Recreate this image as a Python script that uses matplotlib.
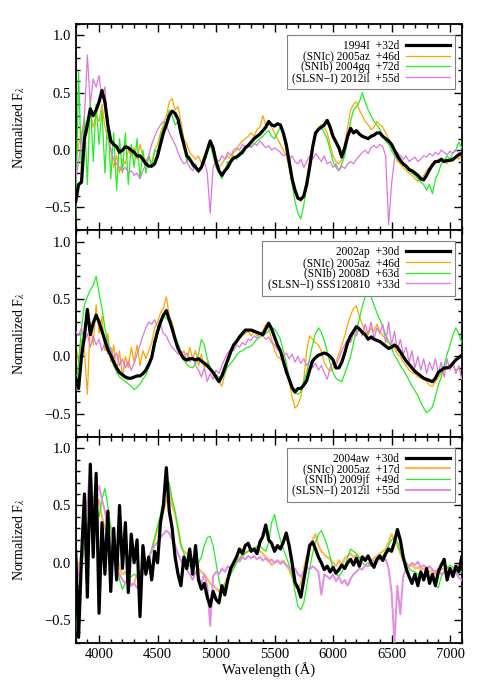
import numpy as np
import matplotlib
matplotlib.use("Agg")
import matplotlib.pyplot as plt
from matplotlib.ticker import MultipleLocator

plt.rcParams["font.family"] = ["Liberation Serif", "DejaVu Serif"]
plt.rcParams["mathtext.fontset"] = "stix"

# all spectra sampled every 25 A between 3800 and 7100 A
WAVE_MIN, WAVE_MAX = 3800, 7100

# ---- panel 1: SN 1994I ----
p1_labels = ["1994I  +32d", "(SNIc) 2005az  +46d", "(SNIb) 2004gq  +72d",
             "(SLSN\u2212I) 2012il  +55d"]
p1_black = [-0.45, -0.30, -0.28, 0.10, 0.22, 0.36, 0.30, 0.35, 0.42, 0.52, 0.42, 0.22,
            0.08, 0.05, 0.03, -0.02, 0.00, 0.03, 0.02, 0.00, -0.02, -0.05, -0.05, -0.08,
            -0.12, -0.14, -0.14, -0.12, -0.05, 0.05, 0.15, 0.22, 0.30, 0.34, 0.32, 0.27,
            0.15, 0.05, -0.05, -0.08, -0.12, -0.15, -0.18, -0.15, -0.08, 0.00, 0.08, 0.02,
            -0.10, -0.18, -0.22, -0.18, -0.15, -0.10, -0.07, -0.06, -0.04, -0.02, 0.02, 0.04,
            0.07, 0.10, 0.12, 0.14, 0.17, 0.20, 0.25, 0.22, 0.21, 0.23, 0.22, 0.15,
            0.05, -0.10, -0.25, -0.35, -0.42, -0.43, -0.40, -0.30, -0.15, 0.02, 0.15, 0.18,
            0.20, 0.22, 0.26, 0.20, 0.12, 0.07, 0.02, -0.06, 0.02, 0.12, 0.19, 0.15,
            0.17, 0.14, 0.12, 0.11, 0.10, 0.12, 0.13, 0.15, 0.15, 0.12, 0.10, 0.08,
            0.05, 0.00, -0.05, -0.09, -0.12, -0.14, -0.17, -0.18, -0.20, -0.22, -0.25, -0.26,
            -0.22, -0.17, -0.13, -0.10, -0.10, -0.08, -0.10, -0.09, -0.09, -0.08, -0.06, -0.04,
            -0.03]
p1_orange = [-0.10, 0.05, 0.15, 0.25, 0.15, 0.35, 0.20, 0.30, 0.25, 0.40, 0.20, 0.10,
             0.02, -0.15, -0.05, -0.20, -0.08, -0.12, 0.00, -0.05, 0.02, -0.08, 0.05, -0.05,
             -0.10, -0.05, -0.12, 0.00, 0.05, 0.15, 0.22, 0.30, 0.42, 0.45, 0.35, 0.38,
             0.25, 0.10, 0.05, -0.02, -0.05, -0.08, -0.05, -0.12, -0.05, 0.02, 0.05, -0.03,
             -0.10, -0.15, -0.12, -0.08, -0.05, -0.08, -0.02, 0.00, 0.05, 0.08, 0.10, 0.12,
             0.15, 0.12, 0.18, 0.20, 0.30, 0.22, 0.25, 0.20, 0.15, 0.10, 0.05, 0.00,
             -0.05, -0.15, -0.28, -0.38, -0.42, -0.45, -0.38, -0.25, -0.10, 0.05, 0.15, 0.20,
             0.22, 0.20, 0.15, 0.05, -0.05, -0.10, -0.12, -0.08, 0.05, 0.20, 0.35, 0.40,
             0.42, 0.35, 0.30, 0.25, 0.22, 0.18, 0.20, 0.25, 0.22, 0.20, 0.15, 0.10,
             0.05, -0.02, -0.10, -0.12, -0.15, -0.18, -0.20, -0.22, -0.25, -0.27, -0.25, -0.22,
             -0.18, -0.15, -0.12, -0.10, -0.08, -0.10, -0.08, -0.12, -0.08, -0.10, -0.06, -0.08,
             -0.05]
p1_green = [-0.60, 0.68, -0.20, 0.30, -0.30, 0.45, -0.10, 0.40, 0.05, 0.35, -0.20, 0.30,
            -0.25, 0.15, -0.35, 0.10, -0.20, 0.15, -0.30, 0.05, -0.15, 0.10, -0.25, 0.00,
            -0.20, -0.05, -0.15, 0.00, -0.02, 0.12, 0.20, 0.25, 0.35, 0.30, 0.22, 0.25,
            0.10, 0.05, -0.10, -0.05, -0.15, -0.12, -0.20, -0.15, -0.05, 0.00, 0.05, -0.05,
            -0.15, -0.20, -0.25, -0.18, -0.10, -0.12, -0.05, -0.08, -0.02, 0.00, 0.02, 0.05,
            0.03, 0.05, 0.08, 0.10, 0.12, 0.15, 0.17, 0.12, 0.10, 0.15, 0.20, 0.12,
            0.00, -0.15, -0.30, -0.45, -0.55, -0.60, -0.48, -0.30, -0.10, 0.05, 0.12, 0.18,
            0.20, 0.15, 0.10, 0.00, -0.10, -0.15, -0.18, -0.12, -0.05, 0.10, 0.25, 0.35,
            0.38, 0.42, 0.50, 0.42, 0.35, 0.30, 0.25, 0.22, 0.18, 0.12, 0.08, 0.05,
            0.00, -0.05, -0.08, -0.10, -0.12, -0.15, -0.18, -0.20, -0.22, -0.25, -0.28, -0.30,
            -0.35, -0.30, -0.38, -0.25, -0.20, -0.12, -0.10, -0.05, -0.08, -0.02, 0.00, 0.07,
            0.02]
p1_violet = [-0.25, -0.10, 0.10, 0.30, 0.83, 0.40, 0.62, 0.55, 0.65, 0.45, 0.55, 0.20,
             0.00, -0.08, -0.12, -0.15, -0.18, -0.15, -0.20, -0.18, -0.22, -0.20, -0.25, -0.18,
             -0.12, -0.05, 0.05, 0.12, 0.18, 0.22, 0.25, 0.22, 0.15, 0.10, 0.05, -0.02,
             -0.08, -0.12, -0.10, -0.15, -0.18, -0.12, -0.20, -0.15, -0.10, -0.20, -0.55, -0.15,
             -0.08, -0.10, -0.05, -0.08, -0.02, -0.05, 0.00, 0.02, 0.00, 0.05, 0.03, 0.05,
             0.02, 0.06, 0.04, 0.08, 0.05, 0.02, 0.04, 0.00, 0.02, 0.00, -0.02, -0.05,
             -0.03, -0.08, -0.05, -0.10, -0.12, -0.08, -0.15, -0.10, -0.05, -0.08, -0.03, -0.06,
             -0.10, -0.05, -0.12, -0.10, -0.15, -0.12, -0.18, -0.14, -0.16, -0.12, -0.10, -0.12,
             -0.08, -0.05, -0.02, 0.00, -0.03, 0.02, 0.04, 0.02, 0.05, 0.03, -0.05, -0.65,
             -0.30, -0.08, -0.02, -0.05, -0.08, -0.05, -0.10, -0.08, -0.06, -0.10, -0.08, -0.05,
             -0.06, -0.03, -0.05, -0.02, -0.04, 0.00, -0.02, -0.04, -0.01, -0.03, 0.00, -0.02,
             -0.04]

# ---- panel 2: SN 2002ap ----
p2_labels = ["2002ap  +30d", "(SNIc) 2005az  +46d", "(SNIb) 2008D  +63d",
             "(SLSN\u2212I) SSS120810  +33d"]
p2_black = [-0.19, -0.28, 0.00, 0.18, 0.41, 0.19, 0.29, 0.36, 0.30, 0.22, 0.14, 0.06,
            0.01, -0.05, -0.10, -0.14, -0.16, -0.18, -0.19, -0.19, -0.18, -0.17, -0.17, -0.15,
            -0.12, -0.07, -0.01, 0.12, 0.22, 0.30, 0.36, 0.40, 0.32, 0.24, 0.15, 0.07,
            0.02, -0.02, -0.03, -0.02, -0.02, -0.03, -0.02, -0.04, -0.06, -0.08, -0.11, -0.14,
            -0.18, -0.22, -0.17, -0.10, -0.03, 0.04, 0.10, 0.13, 0.17, 0.20, 0.23, 0.23,
            0.23, 0.22, 0.21, 0.20, 0.19, 0.24, 0.29, 0.24, 0.17, 0.10, 0.05, -0.04,
            -0.13, -0.20, -0.27, -0.31, -0.28, -0.28, -0.25, -0.21, -0.12, -0.04, -0.01, 0.01,
            0.02, 0.03, 0.02, 0.00, -0.03, -0.10, -0.10, -0.05, 0.03, 0.12, 0.18, 0.22,
            0.26, 0.24, 0.21, 0.19, 0.15, 0.17, 0.15, 0.14, 0.13, 0.11, 0.09, 0.07,
            0.08, 0.10, 0.08, 0.04, 0.00, -0.04, -0.07, -0.10, -0.13, -0.15, -0.17, -0.19,
            -0.20, -0.21, -0.22, -0.19, -0.14, -0.12, -0.10, -0.10, -0.09, -0.06, -0.03, -0.01,
            0.01]
p2_orange = [0.10, -0.05, 0.15, 0.05, -0.33, 0.30, 0.10, 0.45, 0.20, 0.35, 0.05, 0.20,
             -0.05, 0.10, -0.15, 0.05, -0.18, 0.00, -0.10, 0.08, -0.05, 0.10, -0.08, 0.05,
             -0.02, 0.05, 0.12, 0.25, 0.30, 0.38, 0.42, 0.52, 0.35, 0.30, 0.18, 0.10,
             0.00, 0.05, -0.05, 0.08, -0.02, 0.05, -0.08, 0.02, -0.10, -0.05, -0.12, -0.15,
             -0.20, -0.22, -0.26, -0.15, -0.05, 0.02, 0.08, 0.12, 0.15, 0.18, 0.20, 0.22,
             0.18, 0.22, 0.18, 0.20, 0.22, 0.28, 0.25, 0.15, 0.05, 0.00, -0.02, -0.05,
             -0.10, -0.22, -0.35, -0.45, -0.42, -0.35, -0.20, 0.05, 0.18, 0.15, 0.12, 0.10,
             0.05, -0.05, -0.10, -0.13, -0.10, -0.05, 0.02, 0.10, 0.18, 0.28, 0.36, 0.42,
             0.44, 0.35, 0.28, 0.22, 0.19, 0.25, 0.22, 0.28, 0.22, 0.18, 0.15, 0.12,
             0.10, 0.08, 0.02, 0.00, -0.05, -0.08, -0.12, -0.14, -0.15, -0.18, -0.19, -0.20,
             -0.22, -0.25, -0.26, -0.22, -0.18, -0.15, -0.12, -0.10, -0.10, -0.08, -0.12, -0.10,
             -0.15]
p2_green = [-0.30, -0.05, 0.25, 0.45, 0.52, 0.58, 0.62, 0.70, 0.55, 0.42, 0.25, 0.12,
            0.02, -0.08, -0.13, -0.18, -0.20, -0.22, -0.24, -0.26, -0.29, -0.27, -0.24, -0.20,
            -0.16, -0.10, -0.02, 0.08, 0.18, 0.27, 0.35, 0.34, 0.30, 0.24, 0.18, 0.11,
            0.04, -0.03, -0.07, -0.09, -0.10, -0.06, 0.02, 0.15, 0.10, -0.02, -0.10, -0.13,
            -0.16, -0.18, -0.19, -0.15, -0.09, -0.06, -0.03, 0.01, 0.04, 0.05, 0.07, 0.08,
            0.09, 0.12, 0.15, 0.17, 0.18, 0.20, 0.22, 0.25, 0.24, 0.20, 0.15, 0.05,
            -0.06, -0.18, -0.29, -0.32, -0.33, -0.31, -0.22, -0.14, -0.02, 0.10, 0.20, 0.25,
            0.21, 0.14, 0.04, -0.06, -0.14, -0.19, -0.21, -0.22, -0.15, -0.08, 0.00, 0.12,
            0.22, 0.33, 0.44, 0.52, 0.58, 0.52, 0.45, 0.38, 0.32, 0.26, 0.19, 0.13,
            0.07, 0.01, -0.03, -0.08, -0.12, -0.16, -0.21, -0.26, -0.30, -0.34, -0.40, -0.45,
            -0.49, -0.47, -0.44, -0.35, -0.25, -0.18, -0.08, 0.02, 0.10, 0.19, 0.25, 0.20,
            0.12]
p2_violet = [0.22, 0.18, 0.25, 0.12, 0.20, 0.08, 0.18, 0.10, 0.15, 0.05, 0.12, 0.02,
             0.08, -0.02, 0.03, -0.08, -0.02, -0.10, -0.04, -0.12, -0.06, 0.02, 0.10, 0.18,
             0.25, 0.30, 0.28, 0.32, 0.26, 0.28, 0.20, 0.18, 0.12, 0.08, 0.05, 0.02,
             0.05, -0.02, 0.03, -0.05, 0.00, -0.08, -0.12, -0.18, -0.10, -0.22, -0.15, -0.20,
             -0.12, -0.15, -0.08, -0.02, 0.03, 0.06, 0.05, 0.10, 0.08, 0.12, 0.10, 0.15,
             0.14, 0.18, 0.16, 0.20, 0.18, 0.15, 0.17, 0.12, 0.10, 0.06, 0.04, 0.00,
             0.03, -0.02, 0.02, -0.05, 0.00, -0.06, -0.02, -0.08, -0.04, -0.10, -0.06, -0.12,
             -0.08, -0.14, -0.20, -0.10, -0.05, -0.08, -0.02, 0.05, 0.10, 0.15, 0.12, 0.20,
             0.18, 0.25, 0.18, 0.28, 0.20, 0.30, 0.15, 0.25, 0.20, 0.28, 0.12, 0.30,
             0.10, 0.22, 0.05, 0.15, 0.02, 0.08, -0.05, 0.05, -0.10, 0.00, -0.12, -0.02,
             -0.15, -0.05, -0.12, -0.02, -0.15, -0.05, -0.18, -0.02, -0.12, -0.05, -0.15, -0.08,
             -0.20]

# ---- panel 3: SN 2004aw ----
p3_labels = ["2004aw  +30d", "(SNIc) 2005az  +17d", "(SNIb) 2009jf  +49d",
             "(SLSN\u2212I) 2012il  +55d"]
p3_black = [0.10, -0.65, 0.05, 0.60, -0.30, 0.86, 0.05, 0.78, -0.44, 0.35, -0.10, 0.45,
            -0.25, 0.30, -0.15, 0.50, -0.05, 0.35, -0.26, 0.25, 0.00, 0.20, -0.47, 0.15,
            -0.10, 0.05, -0.15, 0.10, 0.00, 0.35, 0.50, 0.83, 0.45, 0.30, 0.05, -0.10,
            -0.20, 0.05, -0.05, 0.12, -0.10, 0.15, -0.15, -0.23, -0.18, -0.30, -0.38, -0.25,
            -0.32, -0.35, -0.20, -0.28, -0.15, -0.05, 0.00, 0.05, 0.12, 0.08, 0.15, 0.17,
            0.10, 0.12, 0.08, 0.18, 0.23, 0.33, 0.20, 0.17, 0.10, 0.15, 0.12, 0.18,
            0.26, 0.15, 0.00, -0.17, -0.22, -0.30, -0.15, 0.00, 0.15, 0.18, 0.12, 0.05,
            0.00, -0.06, -0.03, -0.08, -0.04, -0.09, -0.06, -0.02, -0.05, 0.00, 0.03, -0.02,
            0.04, -0.03, 0.05, 0.02, 0.06, 0.00, -0.04, 0.03, 0.06, 0.02, 0.08, 0.12,
            0.10, 0.18, 0.29, 0.20, 0.05, -0.05, -0.12, -0.18, -0.10, -0.20, -0.08, -0.15,
            -0.05, -0.18, -0.10, -0.20, -0.08, -0.02, 0.03, -0.15, -0.05, -0.12, -0.03, -0.08,
            0.05]
p3_orange = [0.05, -0.05, 0.08, 0.15, 0.30, 0.45, 0.55, 0.50, 0.55, 0.40, 0.30, 0.25,
             0.32, 0.15, 0.10, -0.05, -0.10, -0.08, -0.15, -0.20, -0.18, -0.10, -0.15, -0.05,
             0.00, 0.05, 0.10, 0.20, 0.30, 0.38, 0.45, 0.55, 0.66, 0.50, 0.42, 0.30,
             0.15, 0.10, 0.08, 0.05, 0.03, -0.02, -0.05, -0.08, -0.10, -0.14, -0.18, -0.20,
             -0.22, -0.25, -0.24, -0.18, -0.12, -0.08, -0.04, 0.00, 0.04, 0.07, 0.09, 0.10,
             0.12, 0.12, 0.14, 0.10, 0.08, 0.05, 0.03, -0.02, 0.00, 0.02, 0.00, 0.02,
             -0.02, -0.06, -0.12, -0.20, -0.23, -0.18, -0.05, 0.05, 0.12, 0.20, 0.25, 0.15,
             0.10, 0.07, 0.05, 0.03, 0.00, -0.03, 0.02, -0.02, 0.04, 0.06, 0.08, 0.05,
             0.07, 0.04, 0.06, 0.03, 0.05, 0.02, 0.04, 0.06, 0.08, 0.10, 0.12, 0.18,
             0.25, 0.20, 0.15, 0.08, 0.02, 0.00, -0.03, -0.02, -0.05, -0.04, -0.06, -0.05,
             -0.07, -0.08, -0.06, -0.10, -0.08, -0.05, -0.06, -0.03, -0.05, -0.06, -0.08, -0.06,
             -0.07]
p3_green = [-0.60, -0.30, -0.05, 0.15, 0.30, 0.45, 0.58, 0.50, 0.40, 0.55, 0.65, 0.50,
            0.30, 0.15, 0.00, -0.15, -0.23, -0.18, -0.15, -0.12, -0.10, -0.12, -0.08, -0.05,
            -0.03, 0.05, 0.12, 0.22, 0.32, 0.42, 0.55, 0.65, 0.70, 0.55, 0.45, 0.30,
            0.15, 0.08, 0.02, -0.03, -0.05, -0.02, 0.00, 0.05, 0.15, 0.22, 0.23, 0.15,
            0.00, -0.15, -0.26, -0.20, -0.15, -0.10, -0.05, 0.00, 0.03, 0.06, 0.08, 0.10,
            0.12, 0.12, 0.14, 0.15, 0.12, 0.10, 0.18, 0.35, 0.42, 0.30, 0.20, 0.12,
            0.05, -0.02, -0.10, -0.25, -0.38, -0.41, -0.35, -0.20, -0.05, 0.08, 0.18, 0.25,
            0.28, 0.22, 0.15, 0.05, -0.05, -0.10, -0.12, -0.08, -0.03, 0.05, 0.12, 0.10,
            0.08, 0.04, 0.00, -0.02, 0.00, -0.03, 0.00, 0.02, 0.03, 0.06, 0.10, 0.15,
            0.20, 0.22, 0.18, 0.10, 0.05, 0.00, -0.05, -0.07, -0.08, -0.10, -0.12, -0.10,
            -0.12, -0.14, -0.15, -0.20, -0.22, -0.12, -0.08, -0.05, -0.02, -0.04, -0.05, -0.06,
            -0.08]
p3_violet = [-0.20, -0.10, 0.05, 0.30, 0.55, 0.83, 0.50, 0.60, 0.67, 0.55, 0.45, 0.30,
             0.15, 0.05, -0.05, -0.10, -0.15, -0.18, -0.12, -0.20, -0.18, -0.22, -0.15, -0.10,
             -0.02, 0.05, 0.10, 0.15, 0.18, 0.22, 0.25, 0.28, 0.26, 0.20, 0.15, 0.08,
             0.02, -0.03, -0.06, -0.10, -0.15, -0.08, -0.12, -0.18, -0.10, -0.20, -0.55, -0.12,
             -0.08, -0.10, -0.05, -0.08, -0.03, -0.05, 0.00, 0.03, 0.01, 0.05, 0.03, 0.06,
             0.04, 0.06, 0.03, 0.05, 0.02, 0.04, 0.01, 0.03, 0.00, 0.02, -0.01, 0.01,
             -0.02, -0.04, -0.06, -0.05, -0.10, -0.12, -0.08, -0.04, -0.06, -0.03, -0.05, -0.08,
             -0.28, -0.10, -0.12, -0.14, -0.10, -0.16, -0.12, -0.18, -0.15, -0.20, -0.14, -0.10,
             -0.08, -0.05, -0.06, -0.02, -0.03, 0.00, 0.02, 0.00, 0.04, 0.02, 0.03, -0.05,
             -0.25, -0.70, -0.20, -0.45, -0.12, -0.05, -0.03, 0.00, -0.02, 0.01, -0.04, -0.02,
             -0.05, -0.03, -0.06, -0.08, -0.05, -0.10, -0.08, -0.12, -0.06, -0.10, -0.08, -0.13,
             -0.15]

panels = [
    (p1_labels, [p1_black, p1_orange, p1_green, p1_violet]),
    (p2_labels, [p2_black, p2_orange, p2_green, p2_violet]),
    (p3_labels, [p3_black, p3_orange, p3_green, p3_violet]),
]

# styles: black reference spectrum on top, comparison spectra underneath
colors = ["black", "#FFA500", "#22EE22", "#DD77DD"]
widths = [2.3, 0.9, 0.9, 0.9]
zorders = [5, 2, 3, 4]
# third panel comparison spectra are drawn a bit paler / thicker
p3_colors = ["black", "#FFB84D", "#22EE22", "#E48CE4"]
p3_widths = [2.3, 1.5, 0.9, 1.4]

fig, axes = plt.subplots(3, 1, figsize=(4.85, 6.92), dpi=100, sharex=True)
fig.subplots_adjust(left=0.156, right=0.952, bottom=0.0708, top=0.9653, hspace=0)

for i, (ax, (labels, series)) in enumerate(zip(axes, panels)):
    cols = p3_colors if i == 2 else colors
    lws = p3_widths if i == 2 else widths
    handles = []
    for vals, lab, c, lw, z in zip(series, labels, cols, lws, zorders):
        wave = np.linspace(WAVE_MIN, WAVE_MAX, len(vals))
        h, = ax.plot(wave, vals, color=c, lw=lw, zorder=z, label=lab)
        handles.append(h)
    leg = ax.legend(handles=handles, loc="upper right", bbox_to_anchor=(0.983, 0.947),
                    borderaxespad=0, markerfirst=False, fontsize=8.3, fancybox=False,
                    edgecolor="#808080", framealpha=1, handlelength=3.8,
                    handletextpad=0.6, labelspacing=-0.12, borderpad=0.45)
    leg.get_frame().set_linewidth(0.8)
    leg.set_zorder(10)

    ax.set_xlim(3800, 7100)
    ax.set_ylim(-0.7, 1.1)
    ax.xaxis.set_major_locator(MultipleLocator(500))
    ax.xaxis.set_minor_locator(MultipleLocator(100))
    ax.yaxis.set_major_locator(MultipleLocator(0.5))
    ax.yaxis.set_minor_locator(MultipleLocator(0.1))
    ax.tick_params(which="both", direction="in", top=True, right=True, labelsize=10.5, width=1.0)
    ax.tick_params(which="major", length=6)
    ax.tick_params(which="minor", length=3.2)
    for sp in ax.spines.values():
        sp.set_linewidth(1.3)
    ax.set_ylabel(r"Normalized F$_\lambda$", fontsize=10)
    ax.yaxis.set_label_coords(-0.125, 0.5)

axes[-1].set_xlabel("Wavelength (\u00c5)", fontsize=10.5, labelpad=1)

fig.savefig("out.png", dpi=100)
